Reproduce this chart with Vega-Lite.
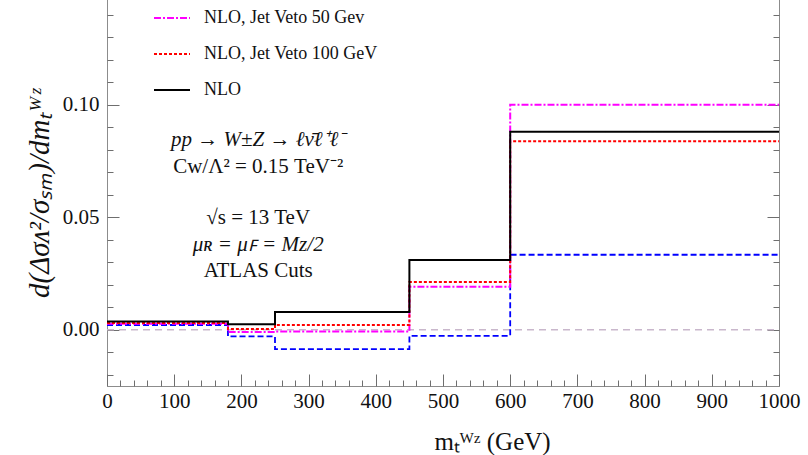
{
  "$schema": "https://vega.github.io/schema/vega-lite/v6.json",
  "width": 672,
  "height": 394,
  "autosize": "none",
  "padding": {"left": 107, "top": -8, "right": 29, "bottom": 69},
  "background": "white",
  "config": {
    "view": {"stroke": "#8c8c8c", "strokeWidth": 1},
    "font": "Liberation Serif",
    "axis": {"domain": false, "grid": false, "tickColor": "#6e6e6e", "tickWidth": 1, "labelColor": "#111", "labelFont": "Liberation Serif", "labelFontSize": 21, "titleFont": "Liberation Serif", "titleColor": "#111", "titleFontWeight": "normal", "labelOverlap": false, "labelFlush": false, "labelBound": false},
    "text": {"font": "Liberation Serif", "fontSize": 21, "align": "center", "baseline": "middle", "color": "#111"}
  },
  "datasets": {
    "steps": [
      {"series": "NLO, Jet Veto 50 Gev", "m": 0, "v": 0.0027},
      {"series": "NLO, Jet Veto 50 Gev", "m": 180, "v": -0.001},
      {"series": "NLO, Jet Veto 50 Gev", "m": 250, "v": -0.0008},
      {"series": "NLO, Jet Veto 50 Gev", "m": 450, "v": 0.0191},
      {"series": "NLO, Jet Veto 50 Gev", "m": 600, "v": 0.0999},
      {"series": "NLO, Jet Veto 50 Gev", "m": 1000, "v": 0.0999},
      {"series": "NLO, Jet Veto 100 GeV", "m": 0, "v": 0.003},
      {"series": "NLO, Jet Veto 100 GeV", "m": 180, "v": 0.0003},
      {"series": "NLO, Jet Veto 100 GeV", "m": 250, "v": 0.0021},
      {"series": "NLO, Jet Veto 100 GeV", "m": 450, "v": 0.0212},
      {"series": "NLO, Jet Veto 100 GeV", "m": 600, "v": 0.0837},
      {"series": "NLO, Jet Veto 100 GeV", "m": 1000, "v": 0.0837},
      {"series": "NLO", "m": 0, "v": 0.0037},
      {"series": "NLO", "m": 180, "v": 0.0024},
      {"series": "NLO", "m": 250, "v": 0.0079},
      {"series": "NLO", "m": 450, "v": 0.031},
      {"series": "NLO", "m": 600, "v": 0.0879},
      {"series": "NLO", "m": 1000, "v": 0.0879},
      {"series": "blue", "m": 0, "v": 0.0021},
      {"series": "blue", "m": 180, "v": -0.003},
      {"series": "blue", "m": 250, "v": -0.0086},
      {"series": "blue", "m": 450, "v": -0.0027},
      {"series": "blue", "m": 600, "v": 0.0333},
      {"series": "blue", "m": 1000, "v": 0.0333},
      {"series": "zero", "m": 0, "v": 0},
      {"series": "zero", "m": 1000, "v": 0}
    ],
    "notes": [
      {"line": "pp → W±Z → ℓν̄ℓ⁺ℓ⁻", "row": 1},
      {"line": "Cᴡ/Λ² = 0.15 TeV⁻²", "row": 2},
      {"line": "√s = 13 TeV", "row": 3},
      {"line": "μʀ = μꜰ = Mᴢ/2", "row": 4},
      {"line": "ATLAS Cuts", "row": 5}
    ]
  },
  "layer": [
    {
      "data": {"name": "steps"},
      "encoding": {
        "x": {
          "field": "m", "type": "quantitative",
          "scale": {"domain": [0, 1000], "nice": false, "zero": false},
          "axis": {
            "orient": "bottom",
            "values": [0,20,40,60,80,100,120,140,160,180,200,220,240,260,280,300,320,340,360,380,400,420,440,460,480,500,520,540,560,580,600,620,640,660,680,700,720,740,760,780,800,820,840,860,880,900,920,940,960,980,1000],
            "labelExpr": "datum.value % 100 === 0 ? format(datum.value, 'd') : ''",
            "tickSize": {"condition": {"test": "datum.value % 100 === 0", "value": -12}, "value": -6},
            "labelPadding": 16,
            "title": "mₜᵂᶻ (GeV)",
            "titleFontSize": 25,
            "titleX": 385,
            "titleY": 63,
            "titleAnchor": "middle",
            "titleBaseline": "alphabetic"
          }
        },
        "y": {
          "field": "v", "type": "quantitative",
          "scale": {"domain": [-0.025, 0.15], "nice": false, "zero": false},
          "axis": {
            "orient": "left",
            "values": [-0.02,-0.01,0,0.01,0.02,0.03,0.04,0.05,0.06,0.07,0.08,0.09,0.1,0.11,0.12,0.13,0.14,0.15],
            "labelExpr": "round(datum.value*100) % 5 === 0 && datum.value < 0.12 ? format(datum.value, '.2f') : ''",
            "tickSize": {"condition": {"test": "round(datum.value*100) % 5 === 0", "value": -12}, "value": -6},
            "labelPadding": 20,
            "title": "d(Δσᴧ²/σₛₘ)/dmₜᵂᶻ",
            "titleFontSize": 29,
            "titleFontStyle": "italic",
            "titleX": -68,
            "titleY": 201,
            "titleAnchor": "middle",
            "titleBaseline": "middle"
          }
        }
      },
      "layer": [
        {
          "transform": [{"filter": "datum.series === 'zero'"}],
          "mark": {"type": "line", "interpolate": "step-after", "stroke": "#c9b7cc", "strokeWidth": 1.5, "strokeDash": [7, 5]}
        },
        {
          "transform": [{"filter": "datum.series === 'blue'"}],
          "mark": {"type": "line", "interpolate": "step-after", "stroke": "#0000ff", "strokeWidth": 1.8, "strokeDash": [6, 3]}
        },
        {
          "transform": [{"filter": {"field": "series", "oneOf": ["NLO, Jet Veto 50 Gev", "NLO, Jet Veto 100 GeV", "NLO"]}}],
          "mark": {"type": "line", "interpolate": "step-after", "strokeWidth": 2},
          "encoding": {
            "color": {
              "field": "series", "type": "nominal",
              "scale": {"domain": ["NLO, Jet Veto 50 Gev", "NLO, Jet Veto 100 GeV", "NLO"], "range": ["#ff00ff", "#ff0000", "#000000"]},
              "legend": {"orient": "none", "legendX": 46, "legendY": 7, "title": null, "symbolType": "stroke", "symbolSize": 1296, "symbolStrokeWidth": 2, "labelFontSize": 18, "labelFont": "Liberation Serif", "labelColor": "#111", "labelOffset": 13, "rowPadding": 8, "padding": 0, "labelLimit": 400}
            },
            "strokeDash": {
              "field": "series", "type": "nominal",
              "scale": {"domain": ["NLO, Jet Veto 50 Gev", "NLO, Jet Veto 100 GeV", "NLO"], "range": [[7, 2, 2, 2], [3, 2], [1, 0]]},
              "legend": {"orient": "none", "legendX": 46, "legendY": 7, "title": null, "symbolType": "stroke", "symbolSize": 1296, "symbolStrokeWidth": 2, "labelFontSize": 18, "labelFont": "Liberation Serif", "labelColor": "#111", "labelOffset": 13, "rowPadding": 8, "padding": 0, "labelLimit": 400}
            }
          }
        }
      ]
    },
    {
      "data": {"name": "notes"},
      "transform": [{"filter": "datum.row === 1"}],
      "mark": {"type": "text", "fontStyle": "italic"},
      "encoding": {"x": {"datum": 225, "type": "quantitative", "axis": null}, "y": {"datum": 0.0844, "type": "quantitative", "axis": null}, "text": {"field": "line"}}
    },
    {
      "data": {"name": "notes"},
      "transform": [{"filter": "datum.row === 2"}],
      "mark": {"type": "text"},
      "encoding": {"x": {"datum": 225, "type": "quantitative", "axis": null}, "y": {"datum": 0.0724, "type": "quantitative", "axis": null}, "text": {"field": "line"}}
    },
    {
      "data": {"name": "notes"},
      "transform": [{"filter": "datum.row === 3"}],
      "mark": {"type": "text"},
      "encoding": {"x": {"datum": 225, "type": "quantitative", "axis": null}, "y": {"datum": 0.0498, "type": "quantitative", "axis": null}, "text": {"field": "line"}}
    },
    {
      "data": {"name": "notes"},
      "transform": [{"filter": "datum.row === 4"}],
      "mark": {"type": "text", "fontStyle": "italic"},
      "encoding": {"x": {"datum": 225, "type": "quantitative", "axis": null}, "y": {"datum": 0.0378, "type": "quantitative", "axis": null}, "text": {"field": "line"}}
    },
    {
      "data": {"name": "notes"},
      "transform": [{"filter": "datum.row === 5"}],
      "mark": {"type": "text"},
      "encoding": {"x": {"datum": 225, "type": "quantitative", "axis": null}, "y": {"datum": 0.0262, "type": "quantitative", "axis": null}, "text": {"field": "line"}}
    },
    {
      "data": {"values": [{"v": 0}]},
      "mark": {"type": "rule", "opacity": 0},
      "encoding": {
        "y": {
          "field": "v", "type": "quantitative",
          "scale": {"domain": [-0.025, 0.15], "nice": false, "zero": false},
          "axis": {
            "orient": "right",
            "values": [-0.02,-0.01,0,0.01,0.02,0.03,0.04,0.05,0.06,0.07,0.08,0.09,0.1,0.11,0.12,0.13,0.14,0.15],
            "labels": false,
            "tickSize": {"condition": {"test": "round(datum.value*100) % 5 === 0", "value": -12}, "value": -6},
            "title": null
          }
        }
      }
    }
  ],
  "resolve": {"axis": {"x": "independent", "y": "independent"}}
}
